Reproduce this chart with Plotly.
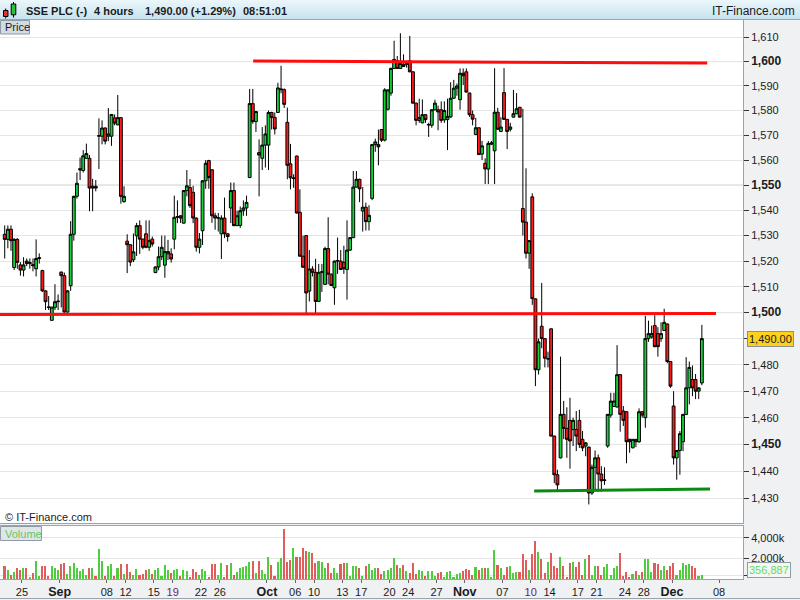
import numpy as np
import pandas as pd
import plotly.graph_objects as go

# ------------------------------------------------------------------ data
first_session = "2022-08-23"
axis_last_day = "2022-12-09"
market_holidays = ["2022-08-29"]
candles_per_session = 3

open_px = [
    1530.5, 1528.5, 1532.5, 1517.5, 1528.5, 1518.5, 1516.5, 1520, 1519, 1518.6,
    1517, 1521, 1516.3, 1508.4, 1502.2, 1497, 1502, 1504.2, 1515.7, 1514.3,
    1500.2, 1510.4, 1530.5, 1545.5, 1556, 1555.8, 1560.7, 1560.7, 1548.8, 1549.5,
    1569.6, 1569.6, 1572.9, 1569.6, 1569.6, 1577, 1574.2, 1577.1, 1543.4, 1527.8,
    1526.4, 1520.5, 1529.9, 1533.9, 1528.6, 1530.7, 1525.4, 1528.6, 1515.5, 1517.7,
    1521.7, 1518.4, 1522.8, 1522.8, 1528.6, 1537.2, 1537.8, 1534.9, 1547.8, 1549,
    1547.1, 1536.9, 1525.4, 1531.9, 1551.7, 1559.8, 1556.1, 1537.8, 1536.9, 1530.7,
    1536.9, 1530.7, 1540.9, 1547.8, 1533.9, 1534, 1539.8, 1540.9, 1553, 1582.8,
    1575.5, 1563, 1560.7, 1566, 1566, 1579.2, 1577.2, 1579.2, 1588.5, 1588.5,
    1575.2, 1558.5, 1552.6, 1561.6, 1539.2, 1521.9, 1530, 1508.3, 1516.9, 1515.6,
    1504.3, 1515.6, 1510.9, 1524.9, 1514.9, 1509.6, 1520, 1520, 1519.5, 1516.7,
    1524.3, 1529.2, 1549.2, 1552.3, 1539.7, 1541.2, 1535.5, 1544.7, 1566.2, 1566.2,
    1572.3, 1568, 1580.5, 1587.1, 1597.2, 1600.3, 1597.2, 1598.9, 1598.9, 1600.3,
    1595.8, 1583, 1576, 1575, 1578.3, 1574.1, 1574, 1580.3, 1580.3, 1580.3,
    1576.2, 1576.3, 1577.4, 1585, 1589.1, 1584.4, 1595.2, 1595.8, 1587.1, 1578.3,
    1570.3, 1573, 1562.4, 1558.7, 1556.4, 1566.4, 1563.7, 1579.3, 1571.5, 1587.3,
    1576.4, 1572.4, 1577.3, 1578.7, 1581.3, 1540.7, 1535.3, 1523.1, 1545.3, 1505.3,
    1478.1, 1494.75, 1490, 1482.2, 1493.75, 1453.1, 1438.75, 1445, 1461.25, 1456,
    1459, 1455.6, 1455.6, 1459, 1451.9, 1449.4, 1449, 1432, 1441.5, 1445,
    1439, 1436.6, 1449.4, 1461, 1464.25, 1464, 1476.25, 1462.5, 1462.25, 1451.9,
    1448.75, 1451.9, 1451, 1462.25, 1460, 1490, 1490.6, 1495, 1491.9, 1490,
    1493.1, 1495.6, 1481.25, 1464.4, 1445, 1447.75, 1451, 1461.25, 1471.25, 1474.4,
    1474.4, 1470, 1473.1,
]
high_px = [
    1534, 1534, 1534, 1529, 1529, 1519.6, 1521.5, 1521, 1521, 1521,
    1528.5, 1523, 1516.6, 1508.6, 1506.4, 1502.2, 1511, 1507, 1515.9, 1515.5,
    1508.6, 1535.7, 1545.8, 1555, 1561, 1564, 1566.6, 1562, 1552.5, 1552,
    1576.8, 1576, 1573.2, 1581, 1578.6, 1578.4, 1586.3, 1577.3, 1549.5, 1530.5,
    1526.6, 1530.8, 1535, 1536, 1528.8, 1536, 1536, 1529.6, 1517.9, 1525.7,
    1530, 1530, 1528.3, 1525, 1545.8, 1543.9, 1538, 1548, 1556, 1552.4,
    1549.7, 1537.1, 1531, 1552, 1560, 1560.1, 1556.3, 1539, 1538.9, 1538,
    1545, 1531, 1551, 1551, 1539.8, 1541.5, 1543.9, 1545.8, 1588.8, 1588.8,
    1579.8, 1568.3, 1573.3, 1574, 1580, 1579.5, 1579.2, 1591.3, 1598.3, 1589,
    1581.2, 1566.5, 1554.3, 1561.8, 1548.3, 1530, 1530.2, 1524.3, 1518, 1520.9,
    1518.9, 1518.9, 1525.6, 1537.2, 1515.1, 1520.2, 1529.2, 1524.3, 1526, 1536,
    1529.4, 1555.6, 1555.6, 1552.5, 1549.2, 1543, 1542, 1566.5, 1568.6, 1572.3,
    1572.5, 1589.1, 1588.6, 1597.5, 1608.6, 1602.3, 1611.7, 1603, 1600, 1610.6,
    1596, 1583.2, 1584.8, 1584.5, 1578.5, 1575, 1580.5, 1584.4, 1582, 1583.7,
    1583.7, 1584.8, 1591.5, 1592.5, 1591, 1597.2, 1597.2, 1597.2, 1587.3, 1580,
    1577, 1573.2, 1567.7, 1560.7, 1567.7, 1567.7, 1597.3, 1581.1, 1577.3, 1597.3,
    1576.6, 1575, 1588.4, 1587.1, 1581.5, 1580.7, 1556.7, 1528.2, 1546.7, 1505.5,
    1490, 1511.5, 1490.2, 1485, 1493.9, 1453.3, 1440.6, 1483.1, 1466.3, 1463.9,
    1467.5, 1460, 1462.5, 1463, 1455, 1450.8, 1449.2, 1442.5, 1447.75, 1446.25,
    1441.9, 1441.5, 1461.4, 1469.4, 1469.4, 1487.5, 1476.4, 1464.4, 1462.4, 1452.1,
    1451.9, 1452, 1463.5, 1462.5, 1498.75, 1496.9, 1495, 1499, 1494.4, 1496.25,
    1501.5, 1495.8, 1481.4, 1470, 1447.9, 1455, 1461.4, 1482.9, 1481.25, 1479.75,
    1476.5, 1471.4, 1495.25,
]
low_px = [
    1521, 1525, 1524, 1516.5, 1517, 1514.3, 1514, 1518, 1517, 1516,
    1514, 1519, 1508, 1501, 1501, 1497, 1501, 1501, 1502, 1500,
    1500, 1508.4, 1528, 1544.6, 1552, 1555, 1560.5, 1539.6, 1539.6, 1547.5,
    1556.4, 1566.3, 1566.3, 1567.6, 1565.7, 1574, 1574, 1542.6, 1543, 1515.3,
    1518, 1519.6, 1522, 1522.8, 1524.6, 1525, 1524, 1525.7, 1515.3, 1516.4,
    1520.4, 1513.5, 1520.4, 1519.4, 1524.6, 1534.9, 1535, 1534.7, 1545.5, 1540.9,
    1534.9, 1523.7, 1523, 1526.3, 1548.5, 1548.5, 1535, 1532.3, 1531.6, 1520.8,
    1529, 1527.6, 1534.9, 1533.7, 1533.7, 1533, 1537.8, 1537.8, 1552.8, 1574.6,
    1571.3, 1545.5, 1556, 1557, 1556, 1572.3, 1570.3, 1579, 1587, 1581,
    1552.3, 1548.3, 1548.9, 1538.7, 1521.7, 1517.4, 1499.6, 1504.3, 1514, 1499.6,
    1504.1, 1508, 1510.7, 1510.9, 1510.3, 1503, 1515, 1516.5, 1515, 1505,
    1524, 1529, 1549, 1543.2, 1531.6, 1532, 1532, 1544, 1563.3, 1557.9,
    1567.3, 1567.5, 1580, 1586, 1597, 1597, 1597, 1597.8, 1597.5, 1595.6,
    1582.8, 1574, 1575, 1574.8, 1575, 1569.3, 1573, 1580, 1572, 1575,
    1575, 1564, 1577, 1584.8, 1586, 1580.3, 1590.4, 1587.3, 1577.4, 1574,
    1570, 1562, 1560, 1550.4, 1550.4, 1566, 1550.4, 1572.2, 1571.3, 1576.2,
    1564.4, 1571.5, 1577.1, 1578.5, 1577.1, 1530, 1521, 1517, 1503, 1471.9,
    1476.3, 1486.3, 1479, 1479, 1453, 1435.6, 1432.5, 1444.8, 1452, 1445,
    1441, 1449.4, 1447.5, 1448.7, 1447.5, 1445.6, 1427.8, 1431.3, 1432.5, 1432.5,
    1432.5, 1435, 1448.75, 1460, 1464, 1463.8, 1454.75, 1456.9, 1443, 1446.9,
    1448.5, 1449, 1450.6, 1460, 1456.25, 1488.75, 1490, 1486.7, 1483.1, 1488.75,
    1493, 1480.6, 1471.25, 1442.5, 1436.9, 1438.75, 1447.5, 1461, 1465, 1468.1,
    1467, 1467, 1472.25,
]
close_px = [
    1528.5, 1532.5, 1528, 1528.5, 1519.5, 1516.5, 1518.5, 1519, 1519.4, 1518.2,
    1521, 1521.3, 1508.4, 1504.2, 1502, 1502.1, 1504.2, 1504.4, 1514.3, 1500.2,
    1508.4, 1530.5, 1545.5, 1550.7, 1556.5, 1561.7, 1562.6, 1548.8, 1549.5, 1548.8,
    1569.8, 1572.9, 1567.6, 1570.5, 1578.4, 1574.9, 1577.1, 1545.5, 1545.5, 1526.4,
    1519.6, 1523.6, 1533.9, 1528.6, 1525.4, 1525.4, 1528, 1526.7, 1517.7, 1521.7,
    1525.4, 1523.7, 1523.7, 1520.8, 1537.2, 1537.5, 1536.9, 1547.8, 1549.7, 1541.8,
    1536.9, 1525.4, 1528.6, 1551.7, 1558.7, 1553, 1537.8, 1536.9, 1537, 1536.9,
    1530.7, 1529.6, 1547.8, 1533.9, 1537.8, 1539.8, 1540.9, 1543.1, 1582.8, 1575.5,
    1579.6, 1562, 1566, 1570.5, 1579.2, 1577.2, 1572.5, 1589.2, 1588.7, 1582.5,
    1557.9, 1552.9, 1552.8, 1538.9, 1521.9, 1517.6, 1507.6, 1516.9, 1515.6, 1504.3,
    1515.6, 1515.8, 1524.9, 1514.9, 1510.5, 1520, 1520.2, 1516.7, 1517, 1524.3,
    1529.2, 1549.2, 1552.3, 1548.5, 1541.2, 1535.5, 1538, 1566.2, 1567.3, 1565.3,
    1568, 1588.4, 1588.4, 1597.2, 1600.9, 1597.2, 1599.2, 1598, 1599.1, 1595.8,
    1583, 1576, 1577.1, 1578.3, 1576.3, 1574.3, 1580.3, 1583, 1579.4, 1576,
    1580, 1577.6, 1585, 1589.1, 1590, 1595.2, 1594.2, 1587.5, 1578.3, 1576.5,
    1573, 1562.2, 1565.7, 1556.4, 1566.7, 1566.9, 1579.3, 1572.4, 1573.3, 1576.4,
    1571.5, 1573.3, 1578.7, 1580.7, 1577.3, 1535.3, 1523.1, 1528, 1505.4, 1478.1,
    1488.75, 1490, 1482.5, 1482.3, 1453.1, 1438.75, 1435, 1461.25, 1456, 1451.9,
    1451.3, 1459, 1453.1, 1450, 1448.7, 1450.6, 1432, 1441.5, 1445, 1439,
    1436.5, 1436.8, 1461.25, 1466.25, 1466.25, 1476.25, 1461.25, 1459, 1451, 1451,
    1451.9, 1451, 1462.25, 1461, 1490, 1491.9, 1491.9, 1486.9, 1486.9, 1491.9,
    1496.25, 1481.25, 1471.9, 1445, 1447.75, 1454, 1461.25, 1471.25, 1479, 1471.25,
    1470, 1471.25, 1490,
]
# traded volume per candle, thousands of shares
volume_k = [
    1260, 870, 390, 710, 1030, 870, 1030, 1100, 230, 610,
    1740, 290, 1260, 1260, 290, 1260, 1100, 870, 1450, 1580,
    480, 1260, 1580, 1030, 800, 940, 390, 1100, 1030, 290,
    2900, 1740, 290, 1260, 1450, 290, 1100, 1450, 480, 1450,
    710, 390, 970, 390, 480, 870, 970, 480, 870, 1100,
    290, 1350, 870, 610, 870, 940, 290, 870, 800, 230,
    970, 710, 390, 940, 770, 230, 1450, 1420, 390, 1580,
    230, 1350, 1520, 390, 710, 1100, 1130, 1290, 1610, 1740,
    610, 1740, 870, 480, 2160, 1350, 290, 1610, 2000, 4840,
    1680, 1840, 2970, 2160, 2160, 2970, 2740, 2580, 2550, 1580,
    1740, 1610, 1030, 1580, 610, 1100, 610, 1450, 1520, 1520,
    290, 1260, 1290, 1100, 290, 1260, 1420, 870, 1100, 1100,
    480, 790, 870, 1030, 2060, 1350, 1030, 1350, 800, 550,
    1580, 480, 870, 800, 290, 800, 800, 290, 610, 710,
    230, 710, 800, 230, 480, 550, 800, 940, 870, 390,
    1190, 870, 1100, 1030, 1030, 230, 2810, 1350, 1030, 390,
    1190, 1290, 610, 710, 710, 2390, 1840, 870, 2420, 3680,
    2650, 1900, 550, 1680, 2550, 1260, 1100, 2100, 1260, 230,
    1520, 1610, 1130, 1650, 390, 1900, 2320, 390, 1260, 1260,
    390, 1130, 1420, 390, 1030, 1300, 2550, 290, 650, 230,
    480, 800, 390, 710, 1900, 1900, 710, 1580, 1450, 870,
    1260, 870, 1260, 1580, 390, 870, 1520, 1320, 1450, 1260,
    1100, 290, 356.887,
]

tick_dates = [
    "2022-08-25", "2022-09-01", "2022-09-08", "2022-09-12", "2022-09-15",
    "2022-09-19", "2022-09-22", "2022-09-26", "2022-10-03", "2022-10-06",
    "2022-10-10", "2022-10-13", "2022-10-17", "2022-10-20", "2022-10-24",
    "2022-10-27", "2022-11-01", "2022-11-07", "2022-11-10", "2022-11-14",
    "2022-11-17", "2022-11-21", "2022-11-24", "2022-11-28", "2022-12-01",
    "2022-12-08",
]
tick_labels = [
    "25", "Sep", "08", "12", "15", "19", "22", "26", "Oct", "06", "10", "13",
    "17", "20", "24", "27", "Nov", "07", "10", "14", "17", "21", "24", "28",
    "Dec", "08",
]
month_labels = ["Sep", "Oct", "Nov", "Dec"]
marked_dates = ["2022-09-19", "2022-11-10"]

price_ticks = list(range(1430, 1611, 10))
volume_ticks = [2000, 4000]

# drawn levels: (first candle, last candle, price at start, price at end)
resistance_level = (79.1, 223.7, 1600.2, 1599.4)
pivot_level = (-1.5, 226.5, 1499.3, 1499.6)
support_level = (168.6, 224.6, 1432.7, 1433.5)

instrument = "SSE PLC (-)"
period = "4 hours"
change_pct = 1.29
quote_time = "08:51:01"

# ------------------------------------------------------------------ layout helpers
W, H = 800, 600
FONT = "Liberation Sans, Arial, sans-serif"
BORDER = "#98a5af"
TEXT = "#1b1b1b"


def fx(px):
    return px / W


def fy(py):
    return 1 - py / H


PLOT_RIGHT = 743
PRICE_TOP, PRICE_BOTTOM = 20, 523
VOL_TOP, VOL_BOTTOM = 526, 579
x_range = [-1.5, 235.1]
price_range = [np.log10(1421.0), np.log10(1617.2)]
volume_range = [0, 5140]

n = len(close_px)
x = np.arange(n)

# sessions on the axis, used to place the date ticks
days = pd.bdate_range(first_session, axis_last_day)
days = days[~days.isin(pd.to_datetime(market_holidays))]
day_index = {d: k for k, d in enumerate(days)}
tick_pos = [candles_per_session * day_index[pd.Timestamp(t)] - 0.5 for t in tick_dates]
tick_text = []
for d, lab in zip(tick_dates, tick_labels):
    if lab in month_labels:
        tick_text.append('<span style="font-size:12.5px"><b>%s</b></span>' % lab)
    elif d in marked_dates:
        tick_text.append('<span style="color:#6e2266">%s</span>' % lab)
    else:
        tick_text.append(lab)

last_price = close_px[-1]
price_text = []
for v in price_ticks:
    if v == round(last_price):
        price_text.append("")
    elif v % 50 == 0:
        price_text.append('<span style="font-size:12px"><b>%s</b></span>' % f"{v:,}")
    else:
        price_text.append(f"{v:,}")

last_volume = volume_k[-1]
vol_tickvals = volume_ticks + [last_volume]
vol_ticktext = [f"{v:,}k" for v in volume_ticks] + [""]

up = np.array(close_px) >= np.array(open_px)
vol_colors = np.where(up, "#4fcd3e", "#e15c5c")

fig = go.Figure()
fig.add_trace(go.Candlestick(
    x=x, open=open_px, high=high_px, low=low_px, close=close_px,
    increasing=dict(line=dict(color="#000000", width=1), fillcolor="#14d23a"),
    decreasing=dict(line=dict(color="#000000", width=1), fillcolor="#ff1a1a"),
    whiskerwidth=0, xaxis="x", yaxis="y", showlegend=False, hoverinfo="skip",
))
fig.add_trace(go.Bar(
    x=x, y=volume_k, width=0.5, marker=dict(color=vol_colors, line=dict(width=0)),
    xaxis="x2", yaxis="y2", showlegend=False, hoverinfo="skip",
))

shapes = []
# header band
top_rgb = np.array([235, 246, 251])
bot_rgb = np.array([198, 227, 239])
for k in range(PRICE_TOP):
    c = top_rgb + (bot_rgb - top_rgb) * k / (PRICE_TOP - 1)
    shapes.append(dict(type="rect", xref="paper", yref="paper", x0=0, x1=1,
                       y0=fy(k + 1), y1=fy(k), layer="above", line=dict(width=0),
                       fillcolor="rgb(%d,%d,%d)" % tuple(np.round(c).astype(int))))
shapes.append(dict(type="line", xref="paper", yref="paper", x0=0, x1=1,
                   y0=fy(PRICE_TOP - 0.5), y1=fy(PRICE_TOP - 0.5),
                   line=dict(color=BORDER, width=1), layer="above"))
# header icon: a falling and a rising candle
icon = [((5.7, 8.5, 18.5), (3.5, 8.0, 10.5, 16.5), "#ee3030"),
        ((13.5, 2.0, 17.5), (11.2, 15.8, 4.0, 14.8), "#2cc23c")]
for (wx, wy0, wy1), (bx0, bx1, by0, by1), col in icon:
    shapes.append(dict(type="line", xref="paper", yref="paper", x0=fx(wx), x1=fx(wx),
                       y0=fy(wy0), y1=fy(wy1), line=dict(color="#000", width=1), layer="above"))
    shapes.append(dict(type="rect", xref="paper", yref="paper", x0=fx(bx0), x1=fx(bx1),
                       y0=fy(by1), y1=fy(by0), fillcolor=col,
                       line=dict(color="#000", width=1), layer="above"))
# stronger grid lines at round fifty levels
for v in price_ticks:
    if v % 50 == 0:
        shapes.append(dict(type="line", xref="x domain", yref="y", x0=0, x1=1, y0=v, y1=v,
                           line=dict(color="#cfcfcf", width=1), layer="below"))
# drawn levels
for (a, b, pa, pb), col in ((resistance_level, "#ff0d0d"), (pivot_level, "#ff0d0d"),
                             (support_level, "#0b8a12")):
    shapes.append(dict(type="line", xref="x", yref="y", x0=a, x1=b, y0=pa, y1=pb,
                       line=dict(color=col, width=3), layer="above"))
# panel caption boxes
shapes.append(dict(type="rect", xref="paper", yref="paper", x0=fx(0.5), x1=fx(29.5),
                   y0=fy(34), y1=fy(20.5), fillcolor="#d2dbe2",
                   line=dict(color="#8d9ba6", width=1), layer="above"))
shapes.append(dict(type="rect", xref="paper", yref="paper", x0=fx(0.5), x1=fx(41.5),
                   y0=fy(540.5), y1=fy(526.5), fillcolor="#dfe5e9",
                   line=dict(color="#8d9ba6", width=1), layer="above"))
# bottom frame line
shapes.append(dict(type="line", xref="paper", yref="paper", x0=0, x1=1,
                   y0=fy(598.5), y1=fy(598.5), line=dict(color=BORDER, width=1)))

annotations = [
    dict(text="<b>%s</b>" % instrument, x=fx(24), y=fy(11), xanchor="left"),
    dict(text="<b>%s</b>" % period, x=fx(92), y=fy(11), xanchor="left"),
    dict(text="<b>%s (+%.2f%%)</b>" % (f"{last_price:,.2f}", change_pct),
         x=fx(143), y=fy(11), xanchor="left"),
    dict(text="<b>%s</b>" % quote_time, x=fx(241), y=fy(11), xanchor="left"),
    dict(text="IT-Finance.com", x=fx(797), y=fy(11), xanchor="right",
         font=dict(size=12, color=TEXT, family=FONT)),
    dict(text="Price", x=fx(3), y=fy(27.5), xanchor="left"),
    dict(text="Volume", x=fx(3), y=fy(533.5), xanchor="left",
         font=dict(size=11, color="#5fc95f", family=FONT)),
    dict(text="\u00a9 IT-Finance.com", x=fx(3), y=fy(517), xanchor="left"),
]
for a in annotations:
    a.update(xref="paper", yref="paper", yanchor="middle", showarrow=False)
    a.setdefault("font", dict(size=11, color=TEXT, family=FONT))

annotations.append(dict(
    text=f"{last_price:,.2f}", xref="paper", yref="y", x=fx(746.5), y=np.log10(last_price),
    xanchor="left", yanchor="middle", showarrow=False, bgcolor="#fdd21c",
    bordercolor="#8f8f8f", borderwidth=1, borderpad=1,
    font=dict(size=11, color=TEXT, family=FONT)))
annotations.append(dict(
    text=f"{int(round(last_volume * 1000)):,}", xref="paper", yref="y2", x=fx(746.5),
    y=last_volume, yshift=5, xanchor="left", yanchor="middle", showarrow=False,
    bgcolor="#f4f7f4", bordercolor="#8f9ca6", borderwidth=1, borderpad=1,
    font=dict(size=11, color="#69d95a", family=FONT)))

axis_common = dict(showline=True, mirror=True, linecolor=BORDER, linewidth=1,
                   zeroline=False, fixedrange=True)
fig.update_layout(
    width=W, height=H, margin=dict(l=0, r=0, t=0, b=0),
    paper_bgcolor="#eff1f3", plot_bgcolor="#ffffff", showlegend=False,
    boxgap=0.05, boxgroupgap=0.05, bargap=0,
    font=dict(family=FONT, size=11, color=TEXT),
    xaxis=dict(domain=[0, fx(PLOT_RIGHT)], range=x_range, anchor="y",
               showticklabels=False, showgrid=False, ticks="",
               rangeslider=dict(visible=False), **axis_common),
    yaxis=dict(domain=[fy(PRICE_BOTTOM), fy(PRICE_TOP)], type="log", range=price_range,
               anchor="x", side="right", tickvals=price_ticks, ticktext=price_text,
               ticks="outside", ticklen=5, tickcolor="#333333", showgrid=True,
               gridcolor="#e5e5e5", tickfont=dict(size=11, color=TEXT, family=FONT),
               **axis_common),
    xaxis2=dict(domain=[0, fx(PLOT_RIGHT)], range=x_range, anchor="y2", matches="x",
                tickvals=tick_pos, ticktext=tick_text, ticks="outside", ticklen=3,
                tickcolor="#666666", showgrid=False, tickangle=0,
                tickfont=dict(size=11, color=TEXT, family=FONT), **axis_common),
    yaxis2=dict(domain=[fy(VOL_BOTTOM), fy(VOL_TOP)], range=volume_range, anchor="x2",
                side="right", tickvals=vol_tickvals, ticktext=vol_ticktext,
                ticks="outside", ticklen=5, tickcolor="#333333", showgrid=True,
                gridcolor="#e5e5e5", tickfont=dict(size=11, color=TEXT, family=FONT),
                **axis_common),
    shapes=shapes, annotations=annotations,
)

fig.write_html("out.html")
